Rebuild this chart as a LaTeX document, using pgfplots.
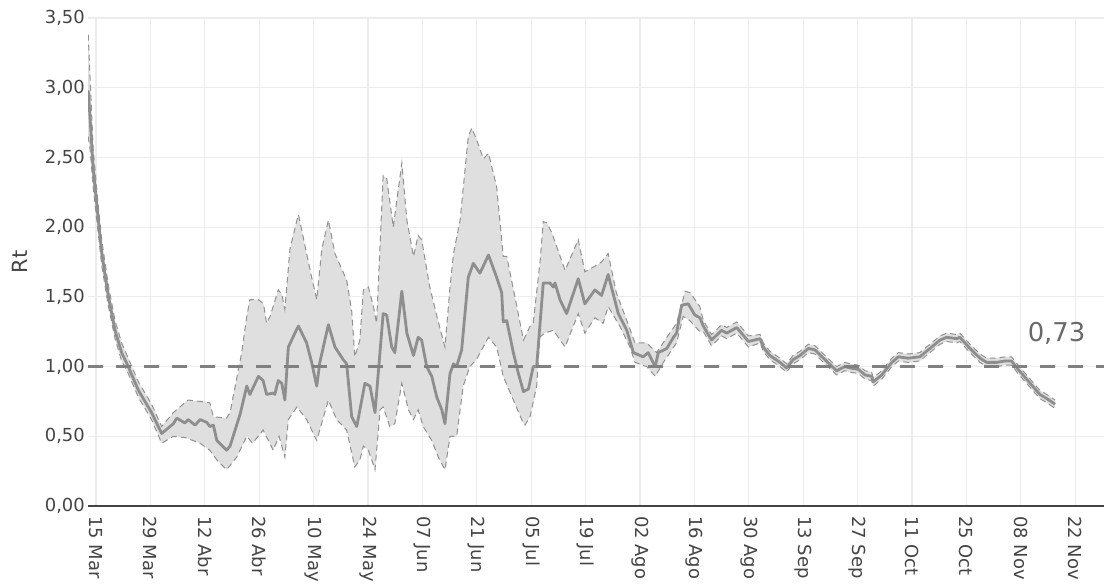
\documentclass[border=0pt]{standalone}
\usepackage{fontspec}
\setmainfont{DejaVu Sans}
\usepackage{pgfplots}
\pgfplotsset{compat=1.18}
\usepgfplotslibrary{fillbetween}
\definecolor{gridc}{RGB}{236,236,236}
\definecolor{tickc}{RGB}{68,68,68}
\definecolor{bandc}{RGB}{223,223,223}
\definecolor{bandl}{RGB}{145,145,145}
\definecolor{linec}{RGB}{142,142,142}
\definecolor{refc}{RGB}{128,128,128}
\definecolor{annc}{RGB}{105,105,105}
\begin{document}
\begin{tikzpicture}
\begin{axis}[
  scale only axis, width=1016bp, height=488bp,
  xmin=-2.06, xmax=259.4, ymin=0, ymax=3.5,
  axis x line*=bottom, axis y line*=left,
  x axis line style={-, draw=tickc, line width=1.4bp},
  y axis line style={draw=none},
  major tick length=0pt,
  xtick={0,14,...,252},
  xticklabels={15 Mar,29 Mar,12 Abr,26 Abr,10 May,24 May,07 Jun,21 Jun,05 Jul,19 Jul,02 Ago,16 Ago,30 Ago,13 Sep,27 Sep,11 Oct,25 Oct,08 Nov,22 Nov},
  ytick={0,0.5,...,3.5},
  grid=major,
  major grid style={draw=gridc, line width=1.2bp},
  tick label style={font=\fontsize{18}{21}\selectfont, text=tickc},
  yticklabel style={anchor=east, inner sep=0pt, xshift=-3bp,
    /pgf/number format/.cd, fixed, fixed zerofill, precision=2, use comma, assume math mode=true},
  xticklabel style={yshift=-10bp, rotate=-90, anchor=west, inner sep=0pt},
  ylabel={Rt},
  ylabel style={at={(axis description cs:-0.0669,0.5)}, anchor=center, rotate=0, font=\fontsize{21}{24}\selectfont, text=tickc},
]
\coordinate (BL) at (rel axis cs:0,0);
\coordinate (TR) at (rel axis cs:1,1);
% upper band
\addplot[name path=up, draw=none, forget plot] coordinates {
(-2.0,3.38) (-1.5,3.05) (-0.7,2.55) (0.6,2.15) (1.5,1.90) (3.2,1.58) (4.9,1.33) (6.6,1.17) (8.3,1.06) (10.9,0.89) (14.3,0.73) (16.9,0.57) (19.9,0.67) (22.0,0.72) (23.7,0.76) (26.8,0.75) (29.3,0.74) (30.2,0.64) (33.6,0.63) (34.5,0.67) (37.5,1.10) (38.8,1.36) (39.6,1.48) (41.8,1.48) (43.1,1.45) (43.9,1.31) (44.8,1.36) (46.9,1.55) (47.8,1.52) (48.6,1.41) (49.9,1.84) (51.7,2.05) (52.1,2.09) (54.2,1.81) (55.5,1.64) (56.8,1.48) (58.1,1.84) (59.8,2.05) (61.5,1.81) (64.5,1.62) (65.8,1.40) (66.6,1.07) (67.9,1.19) (68.8,1.55) (70.1,1.57) (71.4,1.43) (72.2,1.31) (73.9,2.37) (74.8,2.35) (76.5,2.00) (78.7,2.46) (80.0,2.05) (81.7,1.79) (82.9,1.94) (83.8,1.91) (85.9,1.57) (88.0,1.33) (89.8,1.14) (91.1,1.57) (92.0,1.81) (93.7,2.05) (95.8,2.65) (96.7,2.71) (97.9,2.63) (99.7,2.49) (101.0,2.53) (103.1,2.29) (104.8,1.79) (105.7,1.79) (108.3,1.43) (110.0,1.19) (111.7,1.29) (112.5,1.31) (114.3,1.76) (115.1,2.04) (116.0,2.03) (117.3,1.96) (120.7,1.69) (124.1,1.91) (125.8,1.68) (128.4,1.72) (130.1,1.75) (131.8,1.81) (133.9,1.53) (136.6,1.33) (138.7,1.17) (141.7,1.17) (144.3,1.10) (146.9,1.21) (149.4,1.31) (151.6,1.54) (152.9,1.53) (155.4,1.43) (156.3,1.33) (158.4,1.23) (161.0,1.30) (162.3,1.28) (164.9,1.32) (167.9,1.22) (170.9,1.23) (171.7,1.17) (173.4,1.11) (176.0,1.06) (177.7,1.02) (179.4,1.08) (181.2,1.11) (183.3,1.16) (185.0,1.15) (187.2,1.09) (190.6,1.00) (192.7,1.03) (194.0,1.02) (196.2,1.01) (197.9,0.97) (199.6,0.96) (200.0,0.92) (202.2,0.97) (204.8,1.06) (206.5,1.10) (209.0,1.09) (212.0,1.10) (214.6,1.16) (217.2,1.22) (218.9,1.24) (221.5,1.23) (222.3,1.24) (224.9,1.16) (227.5,1.09) (229.2,1.06) (231.8,1.06) (233.9,1.07) (235.6,1.07) (237.3,1.01) (240.4,0.91) (242.9,0.83) (244.7,0.80) (246.8,0.76)
};
% lower band
\addplot[name path=lo, draw=none, forget plot] coordinates {
(-2.0,2.65) (-1.5,2.55) (-0.7,2.28) (0.6,1.95) (1.5,1.72) (3.2,1.43) (4.9,1.20) (6.6,1.04) (8.3,0.95) (10.9,0.78) (14.3,0.62) (16.9,0.45) (19.9,0.50) (23.0,0.49) (26.8,0.45) (29.3,0.40) (31.1,0.33) (33.6,0.26) (36.2,0.35) (38.8,0.50) (40.3,0.45) (43.0,0.545) (45.6,0.40) (47.1,0.50) (48.6,0.35) (49.5,0.62) (51.7,0.71) (54.2,0.62) (56.8,0.47) (59.8,0.76) (61.9,0.62) (64.5,0.545) (66.6,0.28) (67.9,0.33) (68.8,0.43) (70.1,0.40) (71.8,0.26) (73.1,0.69) (73.9,0.71) (75.6,0.57) (76.9,0.59) (78.7,0.88) (80.4,0.69) (81.7,0.62) (82.9,0.69) (84.2,0.57) (86.4,0.47) (88.1,0.35) (89.8,0.26) (91.1,0.50) (92.8,0.50) (94.5,0.86) (96.2,1.00) (97.9,1.05) (101.0,1.21) (103.1,1.14) (104.8,0.93) (107.4,0.76) (110.0,0.59) (110.4,0.58) (111.7,0.64) (113.4,0.86) (114.2,1.21) (115.4,1.24) (117.7,1.26) (120.7,1.14) (124.1,1.38) (125.8,1.24) (128.4,1.35) (130.5,1.31) (131.8,1.43) (134.8,1.29) (137.4,1.14) (138.7,1.03) (141.7,1.00) (143.9,0.93) (146.0,1.03) (149.4,1.17) (151.1,1.36) (152.8,1.33) (155.4,1.25) (156.3,1.25) (158.4,1.15) (161.0,1.22) (162.3,1.20) (164.9,1.24) (167.9,1.14) (170.9,1.17) (171.7,1.11) (173.4,1.05) (176.0,1.00) (177.7,0.96) (179.4,1.02) (181.2,1.05) (183.3,1.10) (185.0,1.09) (187.2,1.03) (190.6,0.94) (192.7,0.97) (194.0,0.96) (196.2,0.95) (197.9,0.91) (199.6,0.90) (200.0,0.86) (202.2,0.91) (204.8,1.00) (206.5,1.04) (209.0,1.03) (212.0,1.04) (214.6,1.10) (217.2,1.16) (218.9,1.18) (221.5,1.17) (222.3,1.18) (224.9,1.10) (227.5,1.03) (229.2,1.00) (231.8,1.00) (233.9,1.01) (235.6,1.01) (237.3,0.95) (240.4,0.85) (242.9,0.77) (244.7,0.74) (246.8,0.70)
};
\addplot[fill=bandc, draw=none, forget plot] fill between[of=up and lo];
\addplot[draw=bandl, line width=1bp, dash pattern=on 6bp off 4bp, forget plot] coordinates {
(-2.0,3.38) (-1.5,3.05) (-0.7,2.55) (0.6,2.15) (1.5,1.90) (3.2,1.58) (4.9,1.33) (6.6,1.17) (8.3,1.06) (10.9,0.89) (14.3,0.73) (16.9,0.57) (19.9,0.67) (22.0,0.72) (23.7,0.76) (26.8,0.75) (29.3,0.74) (30.2,0.64) (33.6,0.63) (34.5,0.67) (37.5,1.10) (38.8,1.36) (39.6,1.48) (41.8,1.48) (43.1,1.45) (43.9,1.31) (44.8,1.36) (46.9,1.55) (47.8,1.52) (48.6,1.41) (49.9,1.84) (51.7,2.05) (52.1,2.09) (54.2,1.81) (55.5,1.64) (56.8,1.48) (58.1,1.84) (59.8,2.05) (61.5,1.81) (64.5,1.62) (65.8,1.40) (66.6,1.07) (67.9,1.19) (68.8,1.55) (70.1,1.57) (71.4,1.43) (72.2,1.31) (73.9,2.37) (74.8,2.35) (76.5,2.00) (78.7,2.46) (80.0,2.05) (81.7,1.79) (82.9,1.94) (83.8,1.91) (85.9,1.57) (88.0,1.33) (89.8,1.14) (91.1,1.57) (92.0,1.81) (93.7,2.05) (95.8,2.65) (96.7,2.71) (97.9,2.63) (99.7,2.49) (101.0,2.53) (103.1,2.29) (104.8,1.79) (105.7,1.79) (108.3,1.43) (110.0,1.19) (111.7,1.29) (112.5,1.31) (114.3,1.76) (115.1,2.04) (116.0,2.03) (117.3,1.96) (120.7,1.69) (124.1,1.91) (125.8,1.68) (128.4,1.72) (130.1,1.75) (131.8,1.81) (133.9,1.53) (136.6,1.33) (138.7,1.17) (141.7,1.17) (144.3,1.10) (146.9,1.21) (149.4,1.31) (151.6,1.54) (152.9,1.53) (155.4,1.43) (156.3,1.33) (158.4,1.23) (161.0,1.30) (162.3,1.28) (164.9,1.32) (167.9,1.22) (170.9,1.23) (171.7,1.17) (173.4,1.11) (176.0,1.06) (177.7,1.02) (179.4,1.08) (181.2,1.11) (183.3,1.16) (185.0,1.15) (187.2,1.09) (190.6,1.00) (192.7,1.03) (194.0,1.02) (196.2,1.01) (197.9,0.97) (199.6,0.96) (200.0,0.92) (202.2,0.97) (204.8,1.06) (206.5,1.10) (209.0,1.09) (212.0,1.10) (214.6,1.16) (217.2,1.22) (218.9,1.24) (221.5,1.23) (222.3,1.24) (224.9,1.16) (227.5,1.09) (229.2,1.06) (231.8,1.06) (233.9,1.07) (235.6,1.07) (237.3,1.01) (240.4,0.91) (242.9,0.83) (244.7,0.80) (246.8,0.76)
};
\addplot[draw=bandl, line width=1bp, dash pattern=on 6bp off 4bp, forget plot] coordinates {
(-2.0,2.65) (-1.5,2.55) (-0.7,2.28) (0.6,1.95) (1.5,1.72) (3.2,1.43) (4.9,1.20) (6.6,1.04) (8.3,0.95) (10.9,0.78) (14.3,0.62) (16.9,0.45) (19.9,0.50) (23.0,0.49) (26.8,0.45) (29.3,0.40) (31.1,0.33) (33.6,0.26) (36.2,0.35) (38.8,0.50) (40.3,0.45) (43.0,0.545) (45.6,0.40) (47.1,0.50) (48.6,0.35) (49.5,0.62) (51.7,0.71) (54.2,0.62) (56.8,0.47) (59.8,0.76) (61.9,0.62) (64.5,0.545) (66.6,0.28) (67.9,0.33) (68.8,0.43) (70.1,0.40) (71.8,0.26) (73.1,0.69) (73.9,0.71) (75.6,0.57) (76.9,0.59) (78.7,0.88) (80.4,0.69) (81.7,0.62) (82.9,0.69) (84.2,0.57) (86.4,0.47) (88.1,0.35) (89.8,0.26) (91.1,0.50) (92.8,0.50) (94.5,0.86) (96.2,1.00) (97.9,1.05) (101.0,1.21) (103.1,1.14) (104.8,0.93) (107.4,0.76) (110.0,0.59) (110.4,0.58) (111.7,0.64) (113.4,0.86) (114.2,1.21) (115.4,1.24) (117.7,1.26) (120.7,1.14) (124.1,1.38) (125.8,1.24) (128.4,1.35) (130.5,1.31) (131.8,1.43) (134.8,1.29) (137.4,1.14) (138.7,1.03) (141.7,1.00) (143.9,0.93) (146.0,1.03) (149.4,1.17) (151.1,1.36) (152.8,1.33) (155.4,1.25) (156.3,1.25) (158.4,1.15) (161.0,1.22) (162.3,1.20) (164.9,1.24) (167.9,1.14) (170.9,1.17) (171.7,1.11) (173.4,1.05) (176.0,1.00) (177.7,0.96) (179.4,1.02) (181.2,1.05) (183.3,1.10) (185.0,1.09) (187.2,1.03) (190.6,0.94) (192.7,0.97) (194.0,0.96) (196.2,0.95) (197.9,0.91) (199.6,0.90) (200.0,0.86) (202.2,0.91) (204.8,1.00) (206.5,1.04) (209.0,1.03) (212.0,1.04) (214.6,1.10) (217.2,1.16) (218.9,1.18) (221.5,1.17) (222.3,1.18) (224.9,1.10) (227.5,1.03) (229.2,1.00) (231.8,1.00) (233.9,1.01) (235.6,1.01) (237.3,0.95) (240.4,0.85) (242.9,0.77) (244.7,0.74) (246.8,0.70)
};
% mean Rt
\addplot[draw=linec, line width=2.8bp, line join=round, forget plot] coordinates {
(-2.0,2.98) (-1.5,2.77) (-0.7,2.41) (0.6,2.05) (1.5,1.81) (3.2,1.50) (4.9,1.26) (6.6,1.10) (8.3,1.00) (10.9,0.83) (14.3,0.67) (16.9,0.52) (19.9,0.59) (20.8,0.63) (22.9,0.595) (23.7,0.62) (25.5,0.58) (26.8,0.62) (28.5,0.60) (29.3,0.57) (30.2,0.58) (31.1,0.47) (33.6,0.40) (34.5,0.43) (37.1,0.66) (38.8,0.86) (39.6,0.80) (41.8,0.93) (43.0,0.90) (43.9,0.80) (45.6,0.81) (46.0,0.80) (46.9,0.90) (47.8,0.88) (48.6,0.76) (49.5,1.14) (51.7,1.27) (52.1,1.29) (54.2,1.17) (55.5,1.03) (56.8,0.86) (57.6,1.03) (59.8,1.30) (61.5,1.14) (63.6,1.05) (64.5,1.02) (65.8,0.64) (67.1,0.57) (69.2,0.88) (70.5,0.86) (71.8,0.67) (73.9,1.38) (74.8,1.37) (76.1,1.14) (76.9,1.10) (78.7,1.54) (80.0,1.24) (81.7,1.08) (82.9,1.21) (83.8,1.19) (85.1,1.00) (86.4,0.93) (87.7,0.78) (89.0,0.69) (89.8,0.59) (91.1,0.95) (92.0,1.02) (92.8,1.00) (94.1,1.12) (95.8,1.64) (97.1,1.74) (98.8,1.67) (101.0,1.80) (103.1,1.64) (104.4,1.53) (104.8,1.32) (105.7,1.33) (107.4,1.10) (108.7,0.95) (110.0,0.82) (111.3,0.84) (112.5,1.00) (113.4,1.00) (115.1,1.60) (116.8,1.60) (117.7,1.57) (118.1,1.60) (119.4,1.48) (121.1,1.38) (124.1,1.63) (125.8,1.45) (128.4,1.55) (130.1,1.51) (131.8,1.66) (134.4,1.38) (136.6,1.26) (138.3,1.10) (140.8,1.07) (142.1,1.10) (143.9,1.00) (144.7,1.10) (146.9,1.13) (148.6,1.21) (149.4,1.24) (150.7,1.44) (152.4,1.45) (154.1,1.37) (155.4,1.35) (156.3,1.29) (158.4,1.19) (161.0,1.26) (162.3,1.24) (164.9,1.28) (167.9,1.18) (170.9,1.20) (171.7,1.14) (173.4,1.08) (176.0,1.03) (177.7,0.99) (179.4,1.05) (181.2,1.08) (183.3,1.13) (185.0,1.12) (187.2,1.06) (190.6,0.97) (192.7,1.00) (194.0,0.99) (196.2,0.98) (197.9,0.94) (199.6,0.93) (200.0,0.89) (202.2,0.94) (204.8,1.03) (206.5,1.07) (209.0,1.06) (212.0,1.07) (214.6,1.13) (217.2,1.19) (218.9,1.21) (221.5,1.20) (222.3,1.21) (224.9,1.13) (227.5,1.06) (229.2,1.03) (231.8,1.03) (233.9,1.04) (235.6,1.04) (237.3,0.98) (240.4,0.88) (242.9,0.80) (244.7,0.77) (246.8,0.73)
};
% reference line Rt = 1
\addplot[draw=refc, line width=3bp, dash pattern=on 15bp off 13bp, forget plot] coordinates {(-2.06,1) (259.4,1)};
\node[font=\fontsize{26}{30}\selectfont, text=annc] at (axis cs:247.2,1.24) {0,73};
\end{axis}
\pgfresetboundingbox
\path[use as bounding box] ([xshift=-88bp,yshift=-80bp]BL) rectangle ([yshift=18bp]TR);
\end{tikzpicture}
\end{document}
